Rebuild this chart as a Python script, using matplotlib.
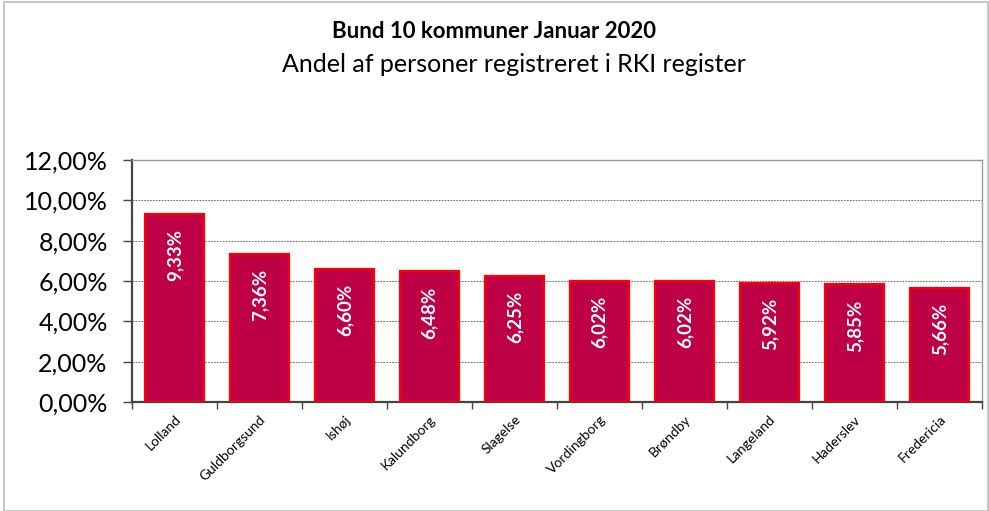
import matplotlib
matplotlib.use("Agg")
import matplotlib.pyplot as plt
from matplotlib.patches import Rectangle
from matplotlib.ticker import FuncFormatter

categories = ["Lolland", "Guldborgsund", "Ishøj", "Kalundborg", "Slagelse",
              "Vordingborg", "Brøndby", "Langeland", "Haderslev", "Fredericia"]
values = [9.33, 7.36, 6.60, 6.48, 6.25, 6.02, 6.02, 5.92, 5.85, 5.66]
yticks = [0, 2, 4, 6, 8, 10, 12]
title = "Bund 10 kommuner Januar 2020"
subtitle = "Andel af personer registreret i RKI register"

plt.rcParams['font.family'] = ['Lato', 'DejaVu Sans']

W, H = 989, 511
fig = plt.figure(figsize=(W/100, H/100), dpi=100)
ax = fig.add_axes([132/W, 1-402/H, (982-132)/W, (402-160)/H])

x = list(range(len(categories)))
ax.bar(x, values, width=0.69, color="#BE0045", edgecolor="#FF0000", linewidth=1.6, zorder=3)
ax.set_xlim(-0.5, len(categories)-0.5)
ax.set_ylim(0, 12)
ax.set_yticks(yticks)
ax.yaxis.set_major_formatter(FuncFormatter(lambda v, p: f"{v:.2f}".replace(".", ",") + "%"))
ax.tick_params(axis='y', labelsize=18, length=6.5, width=1, color="#444444", pad=11)
ax.set_xticks([i - 0.5 for i in range(len(categories)+1)], minor=False)
ax.set_xticklabels([])
ax.tick_params(axis='x', length=5, width=1, color="#444444", direction='out')
for i, c in enumerate(categories):
    ax.annotate(c, xy=(i, 0), xycoords='data', xytext=(0, -8), textcoords='offset points',
                rotation=45, ha='right', va='top', fontsize=10, rotation_mode='anchor')

ax.yaxis.grid(True, linestyle=(0, (2, 1.5)), color="#555555", linewidth=0.6, zorder=0)
ax.set_axisbelow(True)
for s in ['top', 'right']:
    ax.spines[s].set_color("#999999")
    ax.spines[s].set_linewidth(1.0)
for s in ['left', 'bottom']:
    ax.spines[s].set_color("#444444")
    ax.spines[s].set_linewidth(1.6)

for i, v in enumerate(values):
    ax.annotate(f"{v:.2f}".replace(".", ",") + "%", xy=(i, v), xytext=(0, -11),
                textcoords='offset points', rotation=90, ha='center', va='top',
                color='white', fontweight='bold', fontsize=13.5, zorder=4)

fig.text(494/W, 1-32/H, title, ha='center', va='center', fontsize=16, fontweight='bold')
fig.text(514/W, 1-65/H, subtitle, ha='center', va='center', fontsize=18)

fig.patches.append(Rectangle((4/W, 0), (988-4)/W, (511-2)/H, transform=fig.transFigure,
                             fill=False, edgecolor="#BBBBBB", linewidth=1.2))

fig.savefig("out.png", dpi=100)
